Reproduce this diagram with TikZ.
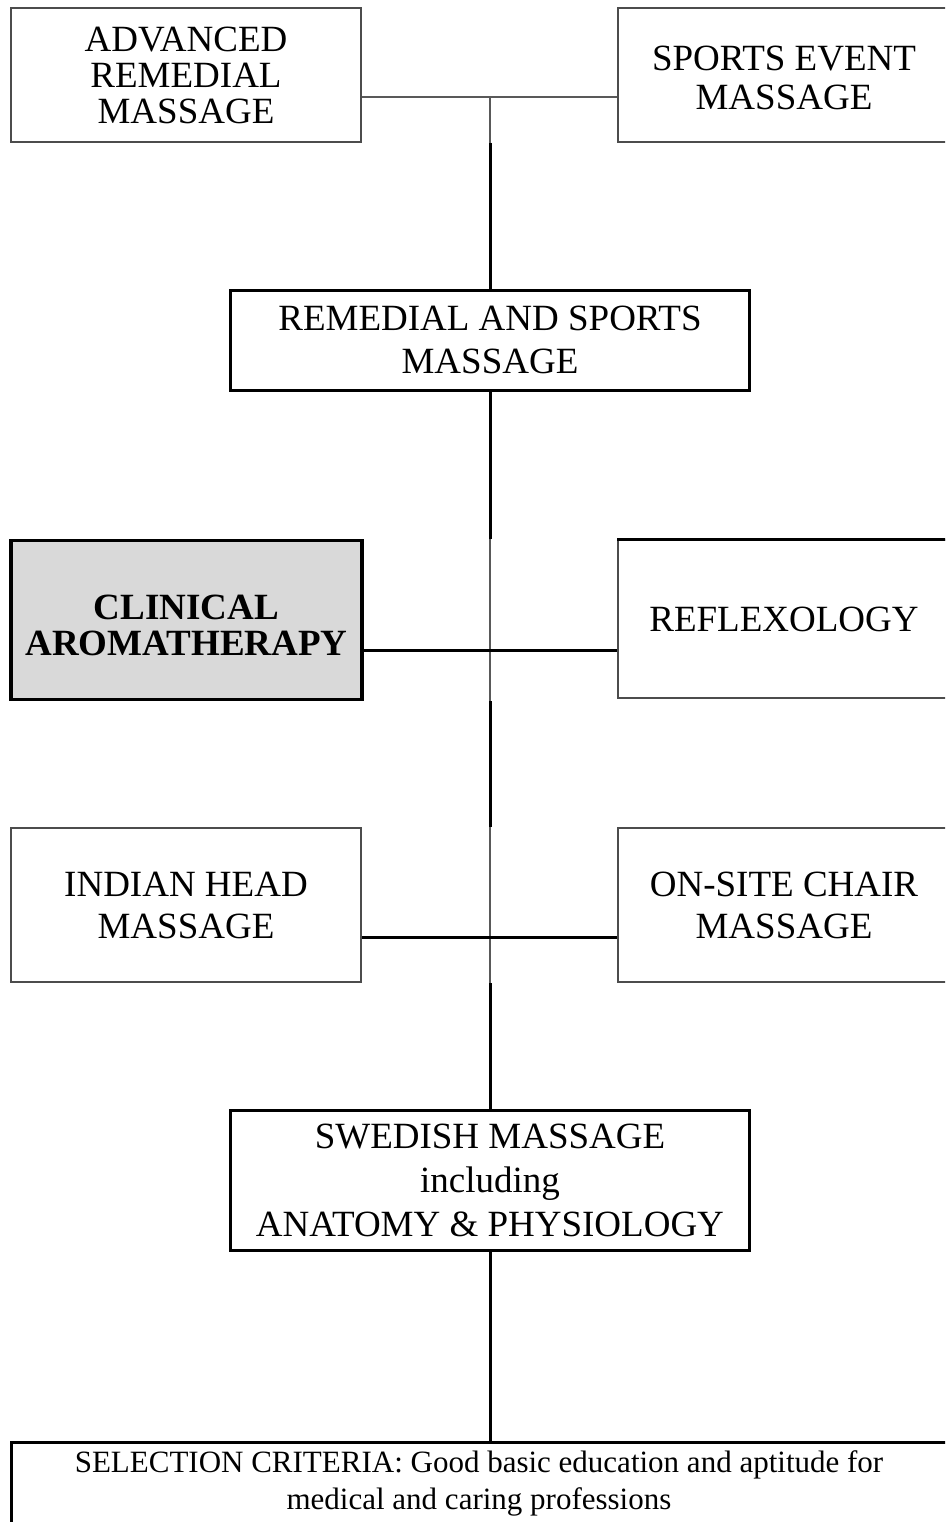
\documentclass[tikz,border=0pt]{standalone}
\usepackage{fontspec}
\setmainfont{Liberation Serif}
\begin{document}
\begin{tikzpicture}[x=1pt,y=-1pt,
  box/.style={draw=black!70, line width=1.5pt, inner sep=0pt, align=center},
  boxthick/.style={draw=black, line width=3pt, inner sep=0pt, align=center},
  thickline/.style={draw=black, line width=3pt},
  thinline/.style={draw=black!65, line width=1.5pt},
  bigtext/.style={font=\fontsize{37}{#1}\selectfont},
]
\clip (0,0) rectangle (945,1522);
\fill[white] (0,0) rectangle (945,1522);

% top row
\node[box, bigtext=36, minimum width=350pt, minimum height=134pt] (arm) at (186,75)
  {ADVANCED\\REMEDIAL\\MASSAGE};
\node[box, bigtext=39, minimum width=332pt, minimum height=134pt] (se) at (784,75)
  {\rule{0pt}{30pt}SPORTS EVENT\\MASSAGE};

\node[boxthick, bigtext=43, minimum width=519pt, minimum height=100pt] (rsm) at (490,340)
  {REMEDIAL AND SPORTS\\MASSAGE};

% middle rows
\node[boxthick, line width=3.5pt, fill={rgb,255:red,217;green,217;blue,217}, bigtext=36,
  minimum width=351pt, minimum height=159pt] (ca) at (186.5,620)
  {\rule{0pt}{36pt}\textbf{CLINICAL}\\\textbf{AROMATHERAPY}};
\node[box, bigtext=40, minimum width=332pt, minimum height=158pt] (refl) at (784,619)
  {REFLEXOLOGY};
\draw[thickline] (refl.north west) -- (refl.north east);

\node[box, bigtext=42, minimum width=350pt, minimum height=154pt] (ind) at (186,905)
  {INDIAN HEAD\\MASSAGE};
\node[box, bigtext=42, minimum width=332pt, minimum height=154pt] (ons) at (784,905)
  {ON-SITE CHAIR\\MASSAGE};

\node[boxthick, bigtext=44, minimum width=519pt, minimum height=140pt] (swe) at (490,1180)
  {SWEDISH MASSAGE\\including\\ANATOMY \& PHYSIOLOGY};

\node[boxthick, anchor=north, font=\fontsize{31}{37}\selectfont,
  minimum width=936pt, inner xsep=0pt, inner ysep=8pt] (sel) at (479,1441)
  {SELECTION CRITERIA: Good basic education and aptitude for\\medical and caring professions};

% junction coordinates
\coordinate (tj) at (490,97);
\coordinate (mj1) at (490,650);
\coordinate (mj2) at (490,937);

% connectors
\draw[thinline] (arm.east |- tj) -- (se.west |- tj);
\draw[thinline] (tj) -- (tj |- arm.south);
\draw[thickline] (tj |- arm.south) -- (rsm.north);

\draw[thickline] (rsm.south) -- (rsm.south |- ca.north);
\draw[thinline] (rsm.south |- ca.north) -- (rsm.south |- ca.south);
\draw[thickline] (rsm.south |- ca.south) -- (rsm.south |- ind.north);
\draw[thinline] (rsm.south |- ind.north) -- (rsm.south |- ind.south);
\draw[thickline] (rsm.south |- ind.south) -- (swe.north);

\draw[thickline] (ca.east |- mj1) -- (refl.west |- mj1);
\draw[thickline] (ind.east |- mj2) -- (ons.west |- mj2);

\draw[thickline] (swe.south) -- (swe.south |- sel.north);
\end{tikzpicture}
\end{document}
